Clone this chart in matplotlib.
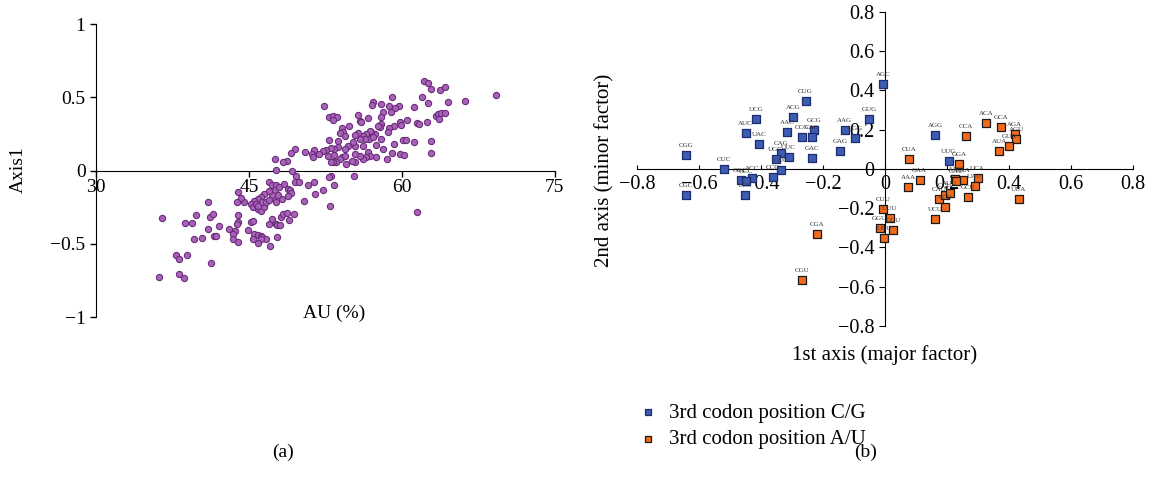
import numpy as np
import matplotlib
matplotlib.use('Agg')
import matplotlib.pyplot as plt

plt.rcParams['font.family'] = ['Liberation Serif', 'DejaVu Serif']
plt.rcParams['axes.unicode_minus'] = True

# (a) AU content vs Axis1 scores
au = [62.2, 62.6, 62.9, 63.8, 64.3, 62.0, 64.5, 66.2, 69.3, 62.6, 61.2, 59.1, 57.2, 57.1, 58.0,
      58.8, 59.7, 59.3, 59.0, 58.2, 58.0, 56.7, 55.9, 56.0, 55.7, 52.4, 52.9, 53.3, 53.7, 53.3,
      63.4, 63.6, 63.9, 64.3, 63.7, 62.5, 61.5, 61.7, 60.5, 59.8, 59.9, 59.2, 58.8, 58.7, 58.0,
      57.9, 57.7, 57.4, 57.0, 56.9, 56.5, 56.2, 55.7, 55.4, 54.8, 54.1, 54.2, 53.9, 54.4, 53.8,
      52.9, 56.8, 56.4, 55.9, 57.2, 57.5, 58.0, 58.2, 59.2, 60.1, 60.4, 61.2, 62.9, 62.9, 59.8,
      60.2, 59.1, 58.6, 57.5, 56.7, 56.9, 56.5, 56.2, 55.9, 55.4, 56.2, 55.4, 55.2, 54.7, 54.4,
      53.8, 53.4, 53.1, 52.6, 52.3, 51.9, 51.4, 51.2, 51.3, 50.5, 49.5, 49.1, 52.8, 53.4, 54.1,
      54.4, 53.9, 53.6, 53.3, 53.1, 54.5, 55.1, 55.4, 48.7, 48.4, 47.6, 47.7, 49.2, 49.6, 49.5,
      49.9, 51.4, 50.8, 53.4, 53.1, 52.9, 52.3, 51.5, 50.4, 55.3, 53.0, 61.5,
      47.0, 47.3, 47.7, 47.6, 48.0, 48.5, 48.8, 49.0, 49.1, 48.8, 48.3, 47.5, 47.9, 47.3, 47.0,
      46.5, 46.2, 45.9, 45.5, 45.2, 45.4, 45.9, 46.2, 46.5, 46.3, 45.7, 45.9, 46.7, 47.0, 47.7,
      44.5, 44.2, 43.9, 43.8, 43.9, 43.9, 43.8, 43.1, 43.6, 43.4, 43.4, 43.9, 44.9, 45.2, 45.4,
      45.5, 45.9, 46.2, 46.3, 46.7, 46.2, 45.4, 45.9, 47.1, 47.8, 47.0, 47.3, 47.7, 47.8, 48.1,
      48.2, 48.4, 48.7, 48.9, 49.4, 41.0, 41.0, 41.2, 41.5, 39.8, 39.4, 38.7, 42.1, 41.6, 41.8,
      40.4, 39.6, 36.5, 37.9, 38.1, 38.9, 41.3, 36.2, 38.1, 38.6]
axis1 = [0.614, 0.598, 0.555, 0.550, 0.568, 0.505, 0.466, 0.473, 0.516, 0.461, 0.432, 0.500, 0.466,
         0.448, 0.455, 0.443, 0.443, 0.425, 0.398, 0.398, 0.364, 0.359, 0.341, 0.330, 0.382, 0.441,
         0.364, 0.375, 0.364, 0.348, 0.375, 0.386, 0.393, 0.393, 0.352, 0.334, 0.325, 0.318, 0.348,
         0.330, 0.311, 0.307, 0.289, 0.266, 0.318, 0.295, 0.307, 0.250, 0.261, 0.273, 0.250, 0.239,
         0.257, 0.243, 0.302, 0.291, 0.261, 0.255, 0.239, 0.200, 0.205, 0.216, 0.216, 0.216, 0.227,
         0.175, 0.216, 0.148, 0.180, 0.209, 0.205, 0.193, 0.202, 0.118, 0.114, 0.107, 0.120, 0.080,
         0.095, 0.125, 0.102, 0.091, 0.080, 0.102, 0.057, 0.164, 0.170, 0.193, 0.170, 0.148, 0.159,
         0.148, 0.152, 0.141, 0.136, 0.114, 0.143, 0.114, 0.095, 0.125, 0.148, 0.120, 0.102, 0.109,
         0.091, 0.102, 0.080, 0.061, 0.057, 0.057, 0.045, 0.068, 0.114, 0.068, 0.061, 0.080, 0.005,
         -0.005, -0.034, -0.075, -0.080, -0.080, -0.098, -0.102, -0.034, -0.045, -0.130, -0.159,
         -0.211, -0.039, -0.239, -0.280,
         -0.080, -0.102, -0.102, -0.136, -0.114, -0.091, -0.125, -0.136, -0.155, -0.175, -0.193,
         -0.189, -0.170, -0.170, -0.141, -0.159, -0.182, -0.193, -0.205, -0.227, -0.250, -0.261,
         -0.273, -0.250, -0.216, -0.227, -0.239, -0.216, -0.200, -0.216, -0.216, -0.189, -0.148,
         -0.216, -0.307, -0.352, -0.368, -0.402, -0.414, -0.432, -0.466, -0.489, -0.405, -0.348,
         -0.345, -0.432, -0.439, -0.448, -0.455, -0.466, -0.466, -0.466, -0.495, -0.516, -0.455,
         -0.364, -0.330, -0.364, -0.375, -0.375, -0.318, -0.295, -0.291, -0.336, -0.295, -0.214,
         -0.402, -0.318, -0.295, -0.302, -0.357, -0.359, -0.382, -0.450, -0.448, -0.461, -0.466,
         -0.323, -0.580, -0.602, -0.575, -0.630, -0.725, -0.705, -0.734]

# (b) codon positions on the 1st / 2nd axes
cg_codons = ['AGC', 'CUG', 'UCG', 'ACG', 'GUG', 'AUC', 'UAC', 'AAC', 'GCG', 'CCG', 'CAC',
             'CGG', 'CUC', 'CAG', 'UUC', 'UGC', 'GUC', 'CCC', 'GAC', 'GAG', 'AAG', 'GGG',
             'CGC', 'GGC', 'ACC', 'GCC', 'UCC', 'AGG', 'UUG']
cg_x = [-0.007, -0.256, -0.416, -0.296, -0.052, -0.449, -0.405, -0.315, -0.229, -0.267, -0.236,
        -0.643, -0.519, -0.336, -0.311, -0.353, -0.336, -0.362, -0.236, -0.145, -0.130, -0.096,
        -0.643, -0.466, -0.429, -0.449, -0.451, 0.162, 0.205]
cg_y = [0.434, 0.344, 0.254, 0.266, 0.254, 0.182, 0.126, 0.187, 0.198, 0.162, 0.165,
        0.072, -0.002, 0.080, 0.061, 0.051, -0.007, -0.041, 0.058, 0.092, 0.198, 0.157,
        -0.133, -0.055, -0.046, -0.060, -0.133, 0.175, 0.043]

au_codons = ['CUA', 'GAA', 'AAA', 'CCA', 'ACA', 'GCA', 'AGA', 'AGU', 'GUA', 'AUA', 'GGA',
             'UCA', 'UAU', 'CAA', 'AAU', 'GAU', 'GCU', 'CAU', 'CCU', 'AUU', 'ACU', 'UCU',
             'UUA', 'CUU', 'UUU', 'GGU', 'GUU', 'UGU', 'CGA', 'CGU']
au_x = [0.078, 0.112, 0.075, 0.262, 0.327, 0.374, 0.419, 0.424, 0.401, 0.369, 0.240,
        0.299, 0.289, 0.253, 0.227, 0.230, 0.267, 0.174, 0.195, 0.210, 0.194, 0.162,
        0.431, -0.006, 0.016, -0.017, 0.026, -0.002, -0.219, -0.267]
au_y = [0.051, -0.055, -0.092, 0.170, 0.235, 0.216, 0.177, 0.155, 0.118, 0.090, 0.024,
        -0.046, -0.085, -0.056, -0.051, -0.060, -0.141, -0.152, -0.133, -0.121, -0.196, -0.256,
        -0.155, -0.203, -0.250, -0.302, -0.312, -0.353, -0.332, -0.567]

fig = plt.figure(figsize=(11.55, 4.9), dpi=100)

# ---- panel (a)
ax1 = fig.add_axes([0.0831, 0.353, 0.397, 0.598])
ax1.scatter(au, axis1, s=20, facecolor='#a862b8', edgecolor='#6b2c7c', linewidth=0.8, zorder=3)
ax1.set_xlim(30, 75)
ax1.set_ylim(-1, 1)
ax1.spines['top'].set_visible(False)
ax1.spines['right'].set_visible(False)
ax1.spines['bottom'].set_position(('data', 0))
ax1.set_xticks([30, 45, 60, 75])
ax1.set_yticks([-1, -0.5, 0, 0.5, 1])
ax1.set_yticklabels(['\u22121', '\u22120.5', '0', '0.5', '1'])
ax1.tick_params(axis='both', direction='out', length=4, labelsize=14, width=1)
ax1.tick_params(axis='x', pad=2)
ax1.text(0.52, 0.014, 'AU (%)', transform=ax1.transAxes, ha='center', va='center', fontsize=14)
fig.text(18 / 1155, 1 - 170 / 490, 'Axis1', rotation=90, ha='center', va='center', fontsize=14)
fig.text(283 / 1155, 1 - 452 / 490, '(a)', ha='center', va='center', fontsize=14)

# ---- panel (b)
ax2 = fig.add_axes([0.5515, 0.3347, 0.4294, 0.641])
ax2.scatter(cg_x, cg_y, marker='s', s=38, facecolor='#3c5db2', edgecolor='#1c2c6e',
            linewidth=0.9, zorder=3, label='3rd codon position C/G')
ax2.scatter(au_x, au_y, marker='s', s=38, facecolor='#f26a1b', edgecolor='#1a1a1a',
            linewidth=0.9, zorder=3, label='3rd codon position A/U')
for names, xs, ys in [(cg_codons, cg_x, cg_y), (au_codons, au_x, au_y)]:
    for name, x, y in zip(names, xs, ys):
        ax2.annotate(name, (x, y), xytext=(0, 5), textcoords='offset points',
                     ha='center', va='bottom', fontsize=5, color='#333333', zorder=4)

ax2.set_xlim(-0.8, 0.8)
ax2.set_ylim(-0.8, 0.8)
ax2.spines['top'].set_visible(False)
ax2.spines['right'].set_visible(False)
ax2.spines['bottom'].set_position(('data', 0))
ax2.spines['left'].set_position(('data', 0))
ticks = [-0.8, -0.6, -0.4, -0.2, 0, 0.2, 0.4, 0.6, 0.8]
ax2.set_xticks(ticks)
ax2.set_yticks(ticks)
ax2.set_xticklabels([f'{t:g}'.replace('-', '\u2212') for t in ticks])
ax2.set_yticklabels([f'{t:g}'.replace('-', '\u2212') for t in ticks])
ax2.tick_params(axis='x', direction='in', length=3, labelsize=14.5, pad=4)
ax2.tick_params(axis='y', direction='out', length=4, labelsize=14.5)
ax2.text(0.5, -0.093, '1st axis (major factor)', transform=ax2.transAxes, ha='center',
         va='center', fontsize=15)
fig.text(605 / 1155, 1 - 170 / 490, '2nd axis (minor factor)', rotation=90, ha='center',
         va='center', fontsize=15)
ax2.legend(loc='upper left', bbox_to_anchor=(0.547, 0.194), bbox_transform=fig.transFigure,
           frameon=False, fontsize=15, handlelength=0.8, handletextpad=0.6,
           labelspacing=0.32, borderaxespad=0, markerscale=0.7)
fig.text(866 / 1155, 1 - 452 / 490, '(b)', ha='center', va='center', fontsize=14)

fig.savefig('out.png', dpi=100)
